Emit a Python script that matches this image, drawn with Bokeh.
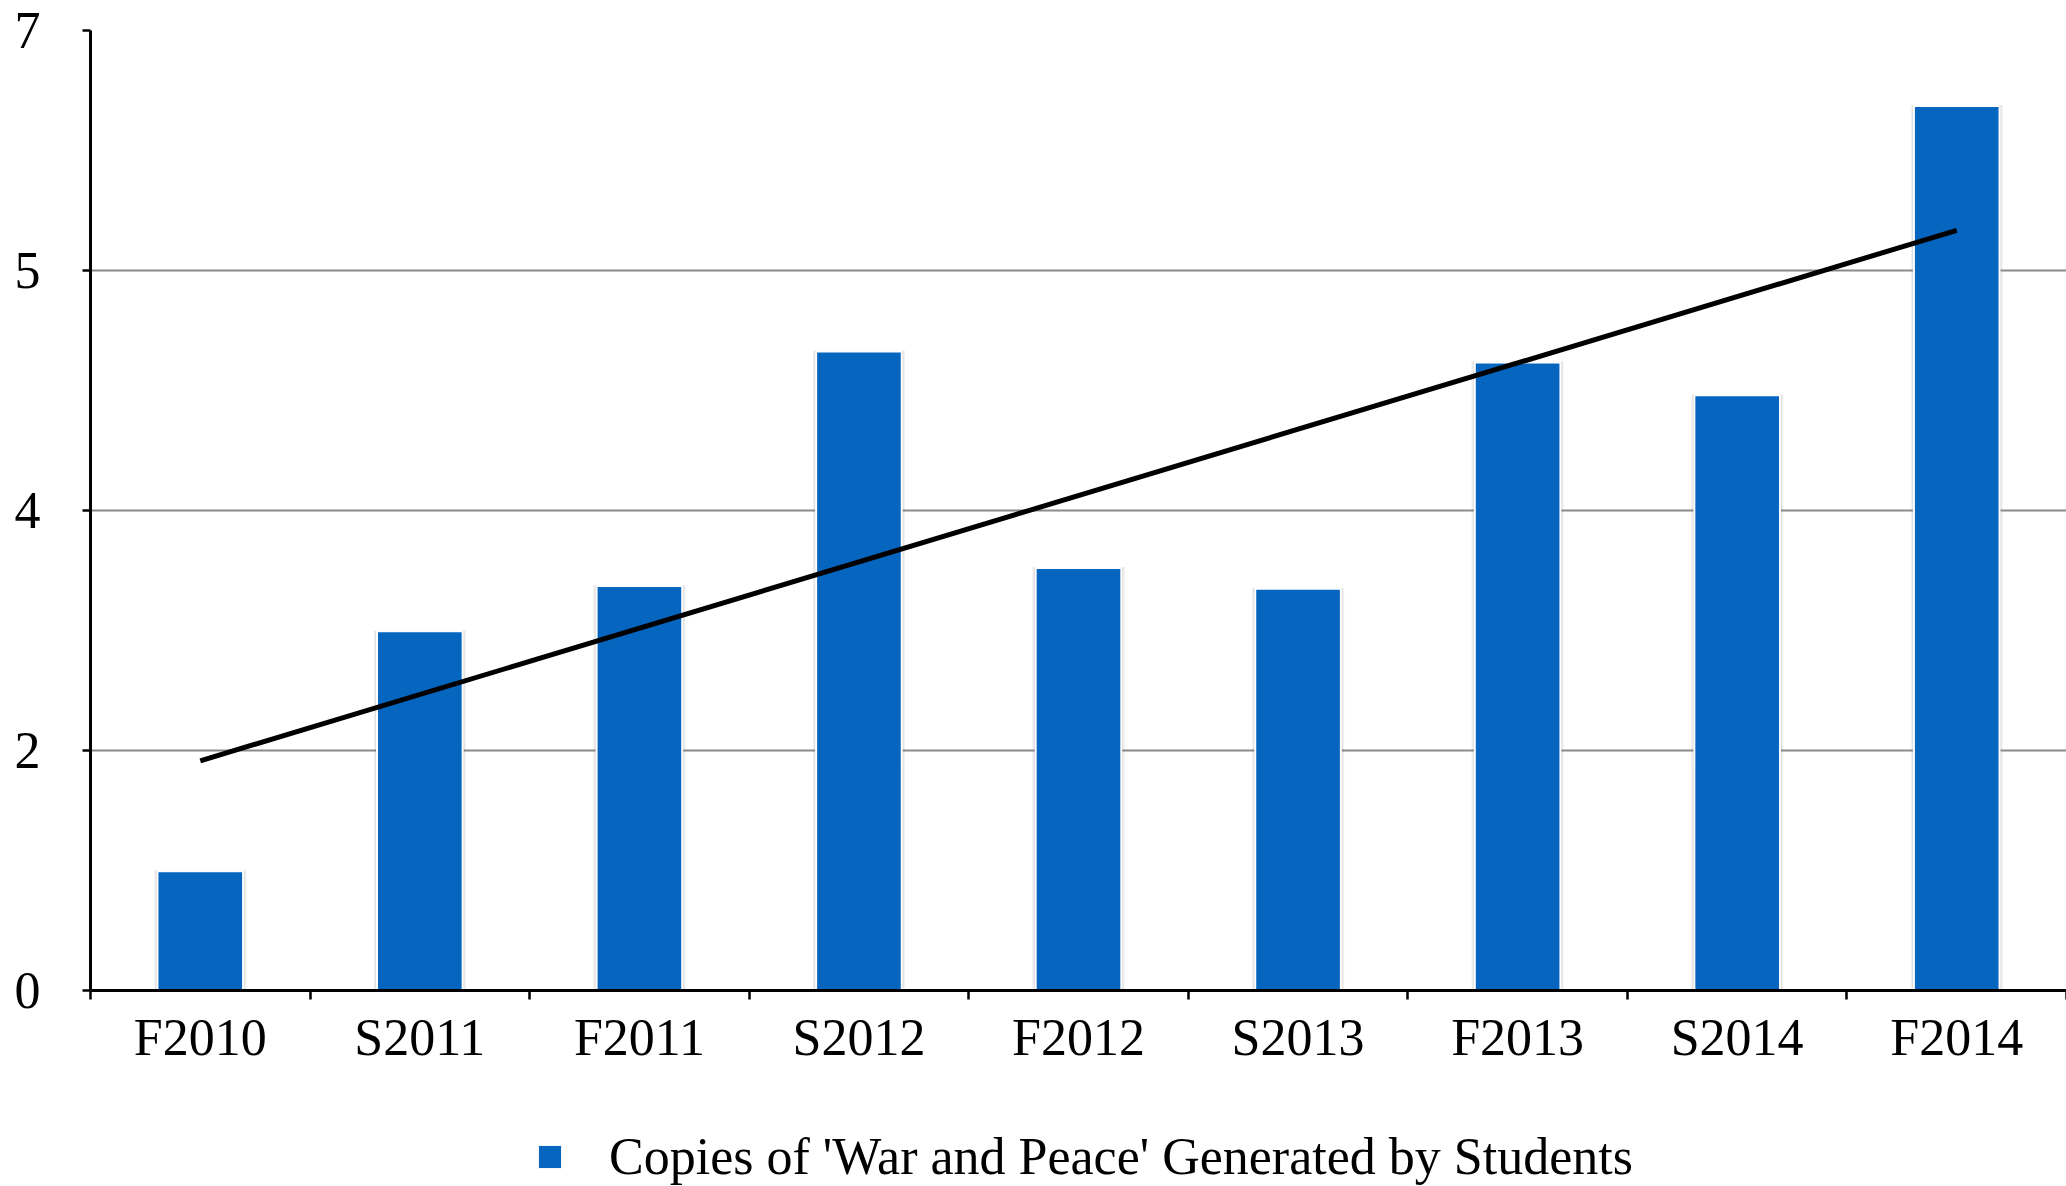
import numpy as np
from bokeh.plotting import figure
from bokeh.layouts import column
from bokeh.models import FixedTicker, Range1d, Legend, LegendItem, ColumnDataSource
from bokeh.embed import file_html
from bokeh.resources import INLINE

# ---- data ----
terms = ["F2010", "S2011", "F2011", "S2012", "F2012", "S2013", "F2013", "S2014", "F2014"]
copies = [0.87, 2.62, 2.95, 4.66, 3.08, 2.93, 4.58, 4.34, 6.45]
y_ticks = [0, 1.75, 3.5, 5.25, 7]
y_tick_labels = ["0", "2", "4", "5", "7"]
series_name = "Copies of 'War and Peace' Generated by Students"

FONT = "Liberation Serif"
FS = "52px"
BLUE = "#0565BF"

xs = np.arange(1, len(terms) + 1)
vals = np.array(copies)
src = ColumnDataSource(dict(x=xs, top=vals, term=terms))

# linear trend line of the series (as in the original chart)
slope, intercept = np.polyfit(xs, vals, 1)
trend_x = [xs[0], xs[-1]]
trend_y = [intercept + slope * xs[0], intercept + slope * xs[-1]]

p = figure(width=2066, height=1076, output_backend="svg", toolbar_location=None,
           x_range=Range1d(0.5, len(terms) + 0.5), y_range=Range1d(0, 7),
           min_border_left=90, min_border_right=0, min_border_top=30,
           min_border_bottom=86)
p.outline_line_color = None
p.background_fill_color = "white"
p.border_fill_color = "white"

# soft shadow behind bars
for dw, a in [(0.030, 0.08), (0.018, 0.12), (0.008, 0.18)]:
    p.vbar(x=xs, top=vals + dw * 0.25, bottom=0, width=0.39 + dw,
           fill_color="#555555", fill_alpha=a, line_color=None)

bars = p.vbar(x="x", top="top", bottom=0, width=0.39, source=src,
              fill_color=BLUE, line_color="white", line_width=2)

p.line(trend_x, trend_y, line_color="black", line_width=5)

# x axis: labels at bar centres, ticks at category boundaries
xa = p.xaxis[0]
xa.ticker = FixedTicker(ticks=list(xs), minor_ticks=[i + 0.5 for i in range(len(terms) + 1)])
xa.major_label_overrides = {int(i): t for i, t in zip(xs, terms)}
xa.major_tick_out = 0
xa.major_tick_in = 0
xa.minor_tick_out = 9
xa.minor_tick_in = 0
xa.minor_tick_line_color = "black"
xa.minor_tick_line_width = 2.5
xa.axis_line_color = "black"
xa.axis_line_width = 3
xa.major_label_text_font = FONT
xa.major_label_text_font_size = FS
xa.major_label_text_color = "black"
xa.major_label_standoff = 9

ya = p.yaxis[0]
ya.ticker = FixedTicker(ticks=y_ticks)
ya.major_label_overrides = {float(v): l for v, l in zip(y_ticks, y_tick_labels)}
ya.major_tick_out = 8
ya.major_tick_in = 0
ya.minor_tick_out = 0
ya.minor_tick_in = 0
ya.major_tick_line_color = "black"
ya.major_tick_line_width = 2.5
ya.axis_line_color = "black"
ya.axis_line_width = 3
ya.major_label_text_font = FONT
ya.major_label_text_font_size = FS
ya.major_label_text_color = "black"
ya.major_label_standoff = 42

p.xgrid.grid_line_color = None
p.ygrid.grid_line_color = "#8a8a8a"
p.ygrid.grid_line_width = 2

# ---- legend strip below the chart ----
# (same series drawn with a range that keeps it out of view; it only feeds the legend key)
lp = figure(width=2066, height=110, output_backend="svg", toolbar_location=None,
            x_range=Range1d(-20, -19), y_range=Range1d(0, 7),
            x_axis_location=None, y_axis_location=None,
            min_border_left=0, min_border_right=0, min_border_top=0, min_border_bottom=0)
lp.outline_line_color = None
lp.xgrid.visible = False
lp.ygrid.visible = False
key = lp.vbar(x="x", top="top", bottom=0, width=0.39, source=src,
              fill_color=BLUE, line_color="white", line_width=1)

legend = Legend(items=[LegendItem(label=series_name, renderers=[key])],
                location=(445, 0), orientation="horizontal",
                label_text_font=FONT, label_text_font_size=FS,
                label_text_color="black",
                glyph_width=29, glyph_height=29, label_standoff=45,
                padding=0, margin=0, border_line_color=None,
                background_fill_alpha=0)
lp.add_layout(legend, "center")

open("out.html", "w").write(file_html(column(p, lp), INLINE))
